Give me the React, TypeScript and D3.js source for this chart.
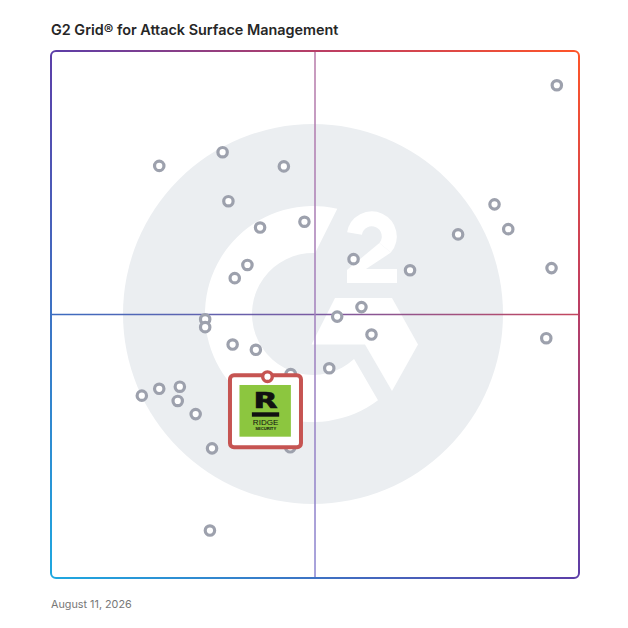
import * as d3 from 'd3';
import React from 'react';

const title = 'G2 Grid® for Attack Surface Management';
const dateLabel = 'August 11, 2026';

// satisfaction (x) and market presence (y), 0..100
const satisfaction = [
    95.8, 20.5, 32.5, 44.1, 33.6, 48.0, 39.6, 84.0, 86.6, 77.1, 57.3,
    68.0, 94.8, 37.2, 34.8, 58.8, 54.2, 29.2, 29.2, 60.7, 93.8, 34.4,
    38.8, 52.7, 45.4, 24.4, 20.5, 17.2, 24.0, 27.4, 30.5, 45.3, 30.1,
];
const marketPresence = [
    93.5, 78.2, 80.8, 78.1, 71.5, 67.6, 66.5, 70.9, 66.2, 65.2, 60.5,
    58.4, 58.8, 59.4, 56.9, 51.4, 49.6, 49.1, 47.6, 46.2, 45.5, 44.3,
    43.3, 39.8, 38.7, 36.3, 35.9, 34.6, 33.6, 31.1, 24.6, 24.8, 9.0,
];
const featuredName = 'RIDGE';
const featuredSub = 'SECURITY';
const featuredX = 41.0;
const featuredY = 38.2;

const W = 628, H = 628;
const m = { top: 51, right: 49, bottom: 50, left: 51 };

const x = d3.scaleLinear().domain([0, 100]).range([m.left, W - m.right]);
const y = d3.scaleLinear().domain([0, 100]).range([H - m.bottom, m.top]);

// G2 watermark
const cx = 313, cy = 314;
function ringPath() {
    const Ro = 108, Ri = 61;
    const rad = (a: number) => (a * Math.PI) / 180;
    const p = d3.path();
    p.moveTo(cx + Ro * Math.cos(rad(-77)), cy + Ro * Math.sin(rad(-77)));
    // big arc the long way round the left side
    p.arc(cx, cy, Ro, rad(-77), rad(53), true);
    p.lineTo(cx + Ri * Math.cos(rad(47.7)), cy + Ri * Math.sin(rad(47.7)));
    p.arc(cx, cy, Ri, rad(47.7), rad(-88), false);
    p.closePath();
    return p.toString();
}
const chevron = [[335, 298], [392, 298], [418, 344.5], [392, 391], [365, 344.5], [311.5, 344.5]];
const two = [[379.4, 242.9], [390.9, 252.6], [366, 269], [397, 269], [397, 283], [347, 283], [347, 270]];

export default function App() {
    const x0 = x(0), x1 = x(100), y0 = y(0), y1 = y(100);
    const fx = x(featuredX), fy = y(featuredY);
    return (
        <svg width={W} height={H} style={{ position: 'absolute', left: 0, top: 0, background: '#fff' }}>
            <defs>
                <linearGradient id="frame" gradientUnits="userSpaceOnUse" x1={x0} y1={y0} x2={x1} y2={y1}>
                    <stop offset="0" stopColor="#1ea8e0" />
                    <stop offset="0.5" stopColor="#5c3ea8" />
                    <stop offset="0.78" stopColor="#c33f5e" />
                    <stop offset="1" stopColor="#ff5528" />
                </linearGradient>
                <linearGradient id="hdiv" gradientUnits="userSpaceOnUse" x1={x0} y1={0} x2={x1} y2={0}>
                    <stop offset="0" stopColor="#3c6cc0" />
                    <stop offset="0.5" stopColor="#7a5aa2" />
                    <stop offset="1" stopColor="#c4465e" />
                </linearGradient>
                <linearGradient id="vdiv" gradientUnits="userSpaceOnUse" x1={0} y1={y1} x2={0} y2={y0}>
                    <stop offset="0" stopColor="#b87aa8" />
                    <stop offset="1" stopColor="#8a84d0" />
                </linearGradient>
            </defs>

            <text x={m.left} y={35} fontFamily="Inter, 'Noto Sans', sans-serif" fontWeight={600} fontSize={14.4} fill="#262626">{title}</text>

            <g>
                <circle cx={cx} cy={cy} r={190} fill="#ebeef1" />
                <path d={ringPath()} fill="#fff" />
                <polygon points={chevron.map(p => p.join(',')).join(' ')} fill="#fff" />
                <path d={`M354.5,233.5 A17.5,17.5 0 1 1 385.1,247.75`} fill="none" stroke="#fff" strokeWidth={15} />
                <polygon points={two.map(p => p.join(',')).join(' ')} fill="#fff" />
            </g>

            <line x1={x0} x2={x1} y1={y(50)} y2={y(50)} stroke="url(#hdiv)" strokeWidth={1.5} />
            <line x1={x(50)} x2={x(50) + 0.01} y1={y1} y2={y0} stroke="url(#vdiv)" strokeWidth={1.5} />
            <rect x={x0} y={y1} width={x1 - x0} height={y0 - y1} rx={5} fill="none" stroke="url(#frame)" strokeWidth={2} />

            {satisfaction.map((s, i) => (
                <circle key={i} cx={x(s)} cy={y(marketPresence[i])} r={4.7} fill="#fff" stroke="#9da1ad" strokeWidth={3.2} />
            ))}

            <g>
                <rect x={fx - 37.5} y={fy - 1.5} width={71} height={72} rx={4} fill="#fff" stroke="#c65452" strokeWidth={4} />
                <rect x={fx - 28} y={fy + 8.3} width={51.4} height={51.7} fill="#8cc63f" />
                <text x={fx - 14} y={fy + 31.6} textLength={24} lengthAdjust="spacingAndGlyphs" fontFamily="'DejaVu Sans', sans-serif" fontWeight={700} fontSize={21} fill="#111" stroke="#111" strokeWidth={0.7}>R</text>
                <rect x={fx - 15.6} y={fy + 35.6} width={27.3} height={4.4} fill="#111" />
                <text x={fx - 14.6} y={fy + 48.6} textLength={25.6} lengthAdjust="spacingAndGlyphs" fontFamily="'Liberation Sans', sans-serif" fontSize={8} fill="#111">{featuredName}</text>
                <text x={fx - 12.3} y={fy + 53.8} textLength={21} lengthAdjust="spacingAndGlyphs" fontFamily="'Liberation Sans', sans-serif" fontWeight={700} fontSize={3.8} fill="#111">{featuredSub}</text>
                <circle cx={fx} cy={fy} r={4.8} fill="#fff" stroke="#c65452" strokeWidth={3.4} />
            </g>

            <text x={m.left} y={608} fontFamily="Inter, 'Noto Sans', sans-serif" fontSize={10.8} fill="#777">{dateLabel}</text>
        </svg>
    );
}
